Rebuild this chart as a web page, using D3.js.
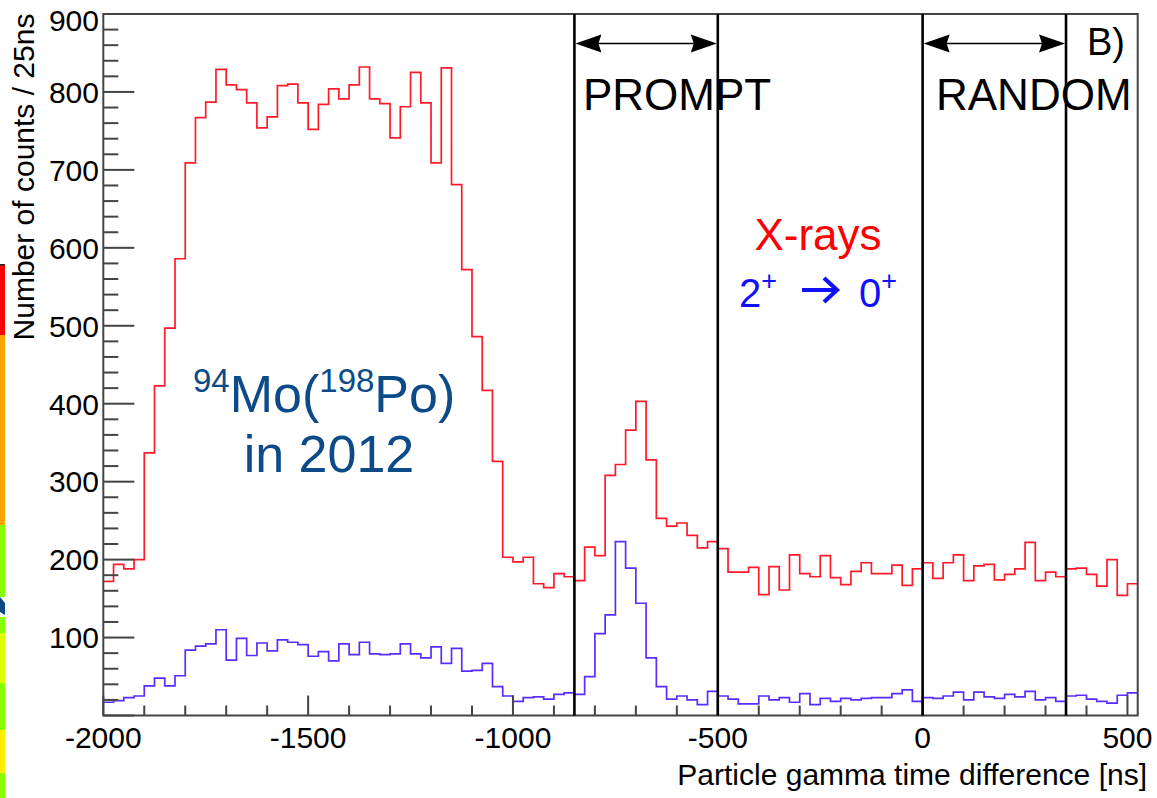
<!DOCTYPE html>
<meta charset="utf-8">
<style>
body {
  margin: 0;
  background-color: #fff;
}
svg {
  position: absolute;
  left: 0;
  top: 0;
  font-family: 'Liberation Sans', Arial, sans-serif;
}
.axis line, .frame {
  stroke: #444;
  stroke-width: 2px;
  fill: none;
}
.ticklabel {
  font-size: 30px;
  fill: #000;
}
</style>
<svg width="1157" height="798"></svg>
<script src="https://d3js.org/d3.v7.min.js"></script>
<script>
// lower edges of the 25 ns bins
var binLow = d3.range(-2000, 525, 25);
var binWidth = 25;

// counts / 25ns, red = X-rays, blue = 2+ -> 0+
var redCounts = [
  172, 194, 188, 200, 337, 423, 497, 586, 709, 767,
  787, 829, 809, 803, 786, 754, 768, 808, 810, 786,
  752, 784, 804, 791, 809, 832, 791, 785, 741, 781,
  825, 786, 709, 831, 681, 572, 486, 417, 326, 203,
  197, 203, 169, 164, 182, 178, 173, 216, 205, 308,
  322, 366, 403, 328, 253, 243, 247, 231, 215, 223,
  214, 184, 184, 190, 155, 191, 161, 206, 182, 178,
  205, 177, 168, 185, 196, 182, 182, 193, 167, 188,
  196, 176, 196, 206, 173, 192, 194, 174, 181, 188,
  222, 173, 184, 178, 188, 189, 181, 166, 200, 154,
  169
];
var blueCounts = [
  17, 19, 23, 25, 38, 48, 38, 51, 84, 89,
  92, 110, 71, 99, 77, 93, 83, 97, 94, 91,
  76, 82, 70, 92, 78, 94, 79, 78, 79, 92,
  79, 74, 88, 67, 86, 57, 58, 67, 37, 25,
  18, 23, 24, 21, 27, 29, 27, 50, 105, 129,
  223, 189, 144, 74, 37, 21, 25, 20, 14, 31,
  25, 21, 15, 15, 25, 20, 23, 17, 28, 14,
  22, 18, 22, 20, 22, 23, 23, 28, 33, 18,
  23, 22, 25, 30, 20, 30, 24, 22, 27, 24,
  31, 20, 23, 18, 25, 26, 21, 18, 16, 26,
  29
];

var xTickLabels = [-2000, -1500, -1000, -500, 0, 500];
var yTickLabels = [100, 200, 300, 400, 500, 600, 700, 800, 900];

// time windows marked with vertical lines
var promptWindow = [-850, -500];
var randomWindow = [0, 350];

var svg = d3.select("svg");

var pL = 103.3, pR = 1137.7, pT = 14, pB = 715.5;

var x = d3.scaleLinear().domain([-2000, 525]).range([pL, pR]);
var y = d3.scaleLinear().domain([0, 900]).range([pB, pT]);

// left edge: leftover colour strip from the slide
var strip = [
  ["#ff0000", 265, 335], ["#ffa500", 335, 525], ["#88ff00", 525, 597],
  ["#88ff00", 617, 633], ["#ddff00", 633, 683], ["#88ff00", 683, 730],
  ["#ffee00", 730, 773], ["#88ff00", 773, 798]
];
svg.append("g").selectAll("rect")
  .data(strip)
  .enter().append("rect")
    .attr("x", 0)
    .attr("width", 5)
    .attr("y", function(d) { return d[1]; })
    .attr("height", function(d) { return d[2] - d[1]; })
    .attr("fill", function(d) { return d[0]; });
svg.append("path")
  .attr("d", "M0,597 L5,603 L5,615 L0,612 Z")
  .attr("fill", "#0a4a80");
svg.append("rect").attr("x", 0).attr("y", 264).attr("width", 5).attr("height", 1.5).attr("fill", "#222");

// histograms
function histLine(counts) {
  var pts = counts.map(function(c, i) { return [binLow[i], c]; });
  pts.push([binLow[counts.length - 1] + binWidth, counts[counts.length - 1]]);
  return d3.line()
    .x(function(d) { return x(d[0]); })
    .y(function(d) { return y(d[1]); })
    .curve(d3.curveStepAfter)(pts);
}

svg.append("path")
  .attr("d", histLine(redCounts))
  .attr("fill", "none")
  .attr("stroke", "#ff1a2a")
  .attr("stroke-width", 1.7);

svg.append("path")
  .attr("d", histLine(blueCounts))
  .attr("fill", "none")
  .attr("stroke", "#5a2cff")
  .attr("stroke-width", 1.7);

// frame
svg.append("path")
  .attr("class", "frame")
  .attr("d", "M" + pL + "," + pB + "V" + pT + "H" + pR + "V" + pB + "Z");

// x ticks (inside, pointing up)
var xg = svg.append("g").attr("class", "axis");
xg.selectAll("line")
  .data(d3.range(-2000, 526, 100))
  .enter().append("line")
    .attr("x1", function(d) { return x(d); })
    .attr("x2", function(d) { return x(d); })
    .attr("y1", pB)
    .attr("y2", function(d) { return d % 500 === 0 ? pB - 20 : pB - 10; });
svg.append("g").selectAll("text")
  .data(xTickLabels)
  .enter().append("text")
    .attr("class", "ticklabel")
    .attr("x", function(d) { return x(d); })
    .attr("y", 748)
    .attr("text-anchor", "middle")
    .text(function(d) { return d; });

// y ticks (inside, pointing right)
var yg = svg.append("g").attr("class", "axis");
yg.selectAll("line")
  .data(d3.range(0, 901, 20))
  .enter().append("line")
    .attr("x1", pL)
    .attr("x2", function(d) { return d % 100 === 0 ? pL + 31 : pL + 15; })
    .attr("y1", function(d) { return y(d); })
    .attr("y2", function(d) { return y(d); });
svg.append("g").selectAll("text")
  .data(yTickLabels)
  .enter().append("text")
    .attr("class", "ticklabel")
    .attr("x", 99)
    // top label is pushed down a little so it stays inside the picture
    .attr("y", function(d) { return Math.max(y(d), 20); })
    .attr("dy", "0.36em")
    .attr("text-anchor", "end")
    .text(function(d) { return d; });

// axis titles
svg.append("text")
  .attr("class", "ticklabel")
  .attr("x", 1147)
  .attr("y", 785)
  .attr("text-anchor", "end")
  .text("Particle gamma time difference [ns]");

svg.append("text")
  .attr("class", "ticklabel")
  .attr("transform", "translate(34,177) rotate(-90)")
  .attr("text-anchor", "middle")
  .text("Number of counts / 25ns");

// window lines
var cuts = promptWindow.concat(randomWindow);
svg.append("g").selectAll("line")
  .data(cuts)
  .enter().append("line")
    .attr("x1", function(d) { return x(d); })
    .attr("x2", function(d) { return x(d); })
    .attr("y1", pT)
    .attr("y2", pB)
    .attr("stroke", "#000")
    .attr("stroke-width", 2.6);

// double arrows
function arrowHead(tipX, dir, yy) {
  var L = 26, H = 9, n = 3;
  return "M" + tipX + "," + yy +
    "L" + (tipX + dir * L) + "," + (yy - H) +
    "L" + (tipX + dir * (L - n)) + "," + yy +
    "L" + (tipX + dir * L) + "," + (yy + H) + "Z";
}
[promptWindow, randomWindow].forEach(function(w) {
  var x0 = x(w[0]) + 1, x1 = x(w[1]) - 1, ay = 43.5;
  svg.append("line")
    .attr("x1", x0 + 10).attr("x2", x1 - 10)
    .attr("y1", ay).attr("y2", ay)
    .attr("stroke", "#000").attr("stroke-width", 1.6);
  svg.append("path").attr("d", arrowHead(x0, 1, ay)).attr("fill", "#000");
  svg.append("path").attr("d", arrowHead(x1, -1, ay)).attr("fill", "#000");
});

// annotations
svg.append("text")
  .attr("x", 583).attr("y", 110)
  .style("font-size", "44px")
  .text("PROMPT");

svg.append("text")
  .attr("x", 936).attr("y", 110)
  .style("font-size", "44px")
  .text("RANDOM");

svg.append("text")
  .attr("x", 1087).attr("y", 55)
  .style("font-size", "38px")
  .text("B)");

svg.append("text")
  .attr("x", 818).attr("y", 250)
  .attr("text-anchor", "middle")
  .style("font-size", "44px")
  .attr("fill", "#ff0000")
  .text("X-rays");

// 2+ -> 0+
var blueTxt = "#1010ff";
var t2 = svg.append("text")
  .attr("x", 739).attr("y", 307)
  .style("font-size", "40px")
  .attr("fill", blueTxt);
t2.append("tspan").text("2");
t2.append("tspan").attr("dy", -17).style("font-size", "27px").text("+");
var t0 = svg.append("text")
  .attr("x", 859).attr("y", 307)
  .style("font-size", "40px")
  .attr("fill", blueTxt);
t0.append("tspan").text("0");
t0.append("tspan").attr("dy", -17).style("font-size", "27px").text("+");
svg.append("path")
  .attr("d", "M802,290 H836 M824,278 L837,290 L824,302")
  .attr("fill", "none")
  .attr("stroke", blueTxt)
  .attr("stroke-width", 4.2);

var mo = svg.append("text")
  .attr("x", 193).attr("y", 412)
  .style("font-size", "52px")
  .attr("fill", "#0c4a88");
mo.append("tspan").attr("dy", -20).style("font-size", "33px").text("94");
mo.append("tspan").attr("dy", 20).text("Mo(");
mo.append("tspan").attr("dy", -20).style("font-size", "33px").text("198");
mo.append("tspan").attr("dy", 20).text("Po)");

svg.append("text")
  .attr("x", 329).attr("y", 472)
  .attr("text-anchor", "middle")
  .style("font-size", "52px")
  .attr("fill", "#0c4a88")
  .text("in 2012");
</script>
